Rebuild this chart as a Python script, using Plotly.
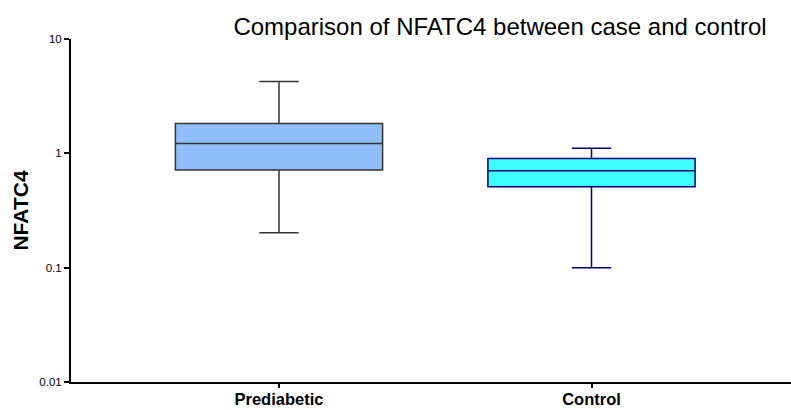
import plotly.graph_objects as go

categories = ["Prediabetic", "Control"]
lower_whisker = [0.202, 0.1]
q1_vals = [0.714, 0.511]
median_vals = [1.22, 0.705]
q3_vals = [1.82, 0.899]
upper_whisker = [4.25, 1.11]
fill_colors = ["#8FBEF8", "#40FFFF"]
line_colors = ["#333333", "#000080"]
y_tick_vals = [0.01, 0.1, 1, 10]
y_tick_text = ["0.01", "0.1", "1", "10"]

fig = go.Figure()
for i, cat in enumerate(categories):
    fig.add_trace(go.Box(
        x=[i],
        q1=[q1_vals[i]], median=[median_vals[i]], q3=[q3_vals[i]],
        lowerfence=[lower_whisker[i]], upperfence=[upper_whisker[i]],
        fillcolor=fill_colors[i],
        line=dict(color=line_colors[i], width=1.5),
        width=0.663,
        whiskerwidth=0.19,
        boxpoints=False,
        showlegend=False,
        hoverinfo="skip",
    ))

fig.update_layout(
    width=791, height=410,
    margin=dict(l=71, r=0, t=39, b=28),
    paper_bgcolor="white", plot_bgcolor="white",
    font=dict(family="Arial, Liberation Sans, sans-serif", color="black"),
    title=dict(
        text="Comparison of NFATC4 between case and control",
        x=500/791, xref="container", xanchor="center",
        y=1-27/410, yref="container", yanchor="middle",
        font=dict(size=24, color="black"),
    ),
    xaxis=dict(
        range=[-0.6656, 1.6384],
        tickmode="array", tickvals=[0, 1], ticktext=categories,
        tickfont=dict(size=16.5, family="Arial, Liberation Sans, sans-serif", weight="bold"),
        showline=True, linecolor="black", linewidth=2,
        ticks="outside", ticklen=4, tickwidth=1.5, tickcolor="black",
        ticklabelstandoff=-3,
        automargin=False,
        showgrid=False, zeroline=False,
    ),
    yaxis=dict(
        type="log", range=[-2, 1],
        tickmode="array", tickvals=y_tick_vals, ticktext=y_tick_text,
        tickfont=dict(size=11.5),
        showline=True, linecolor="black", linewidth=2,
        ticks="outside", ticklen=5, tickwidth=2, tickcolor="black",
        automargin=False,
        showgrid=False, zeroline=False,
        title=dict(text="<b>NFATC4</b>", font=dict(size=21), standoff=5),
    ),
)

fig.write_html("out.html")
